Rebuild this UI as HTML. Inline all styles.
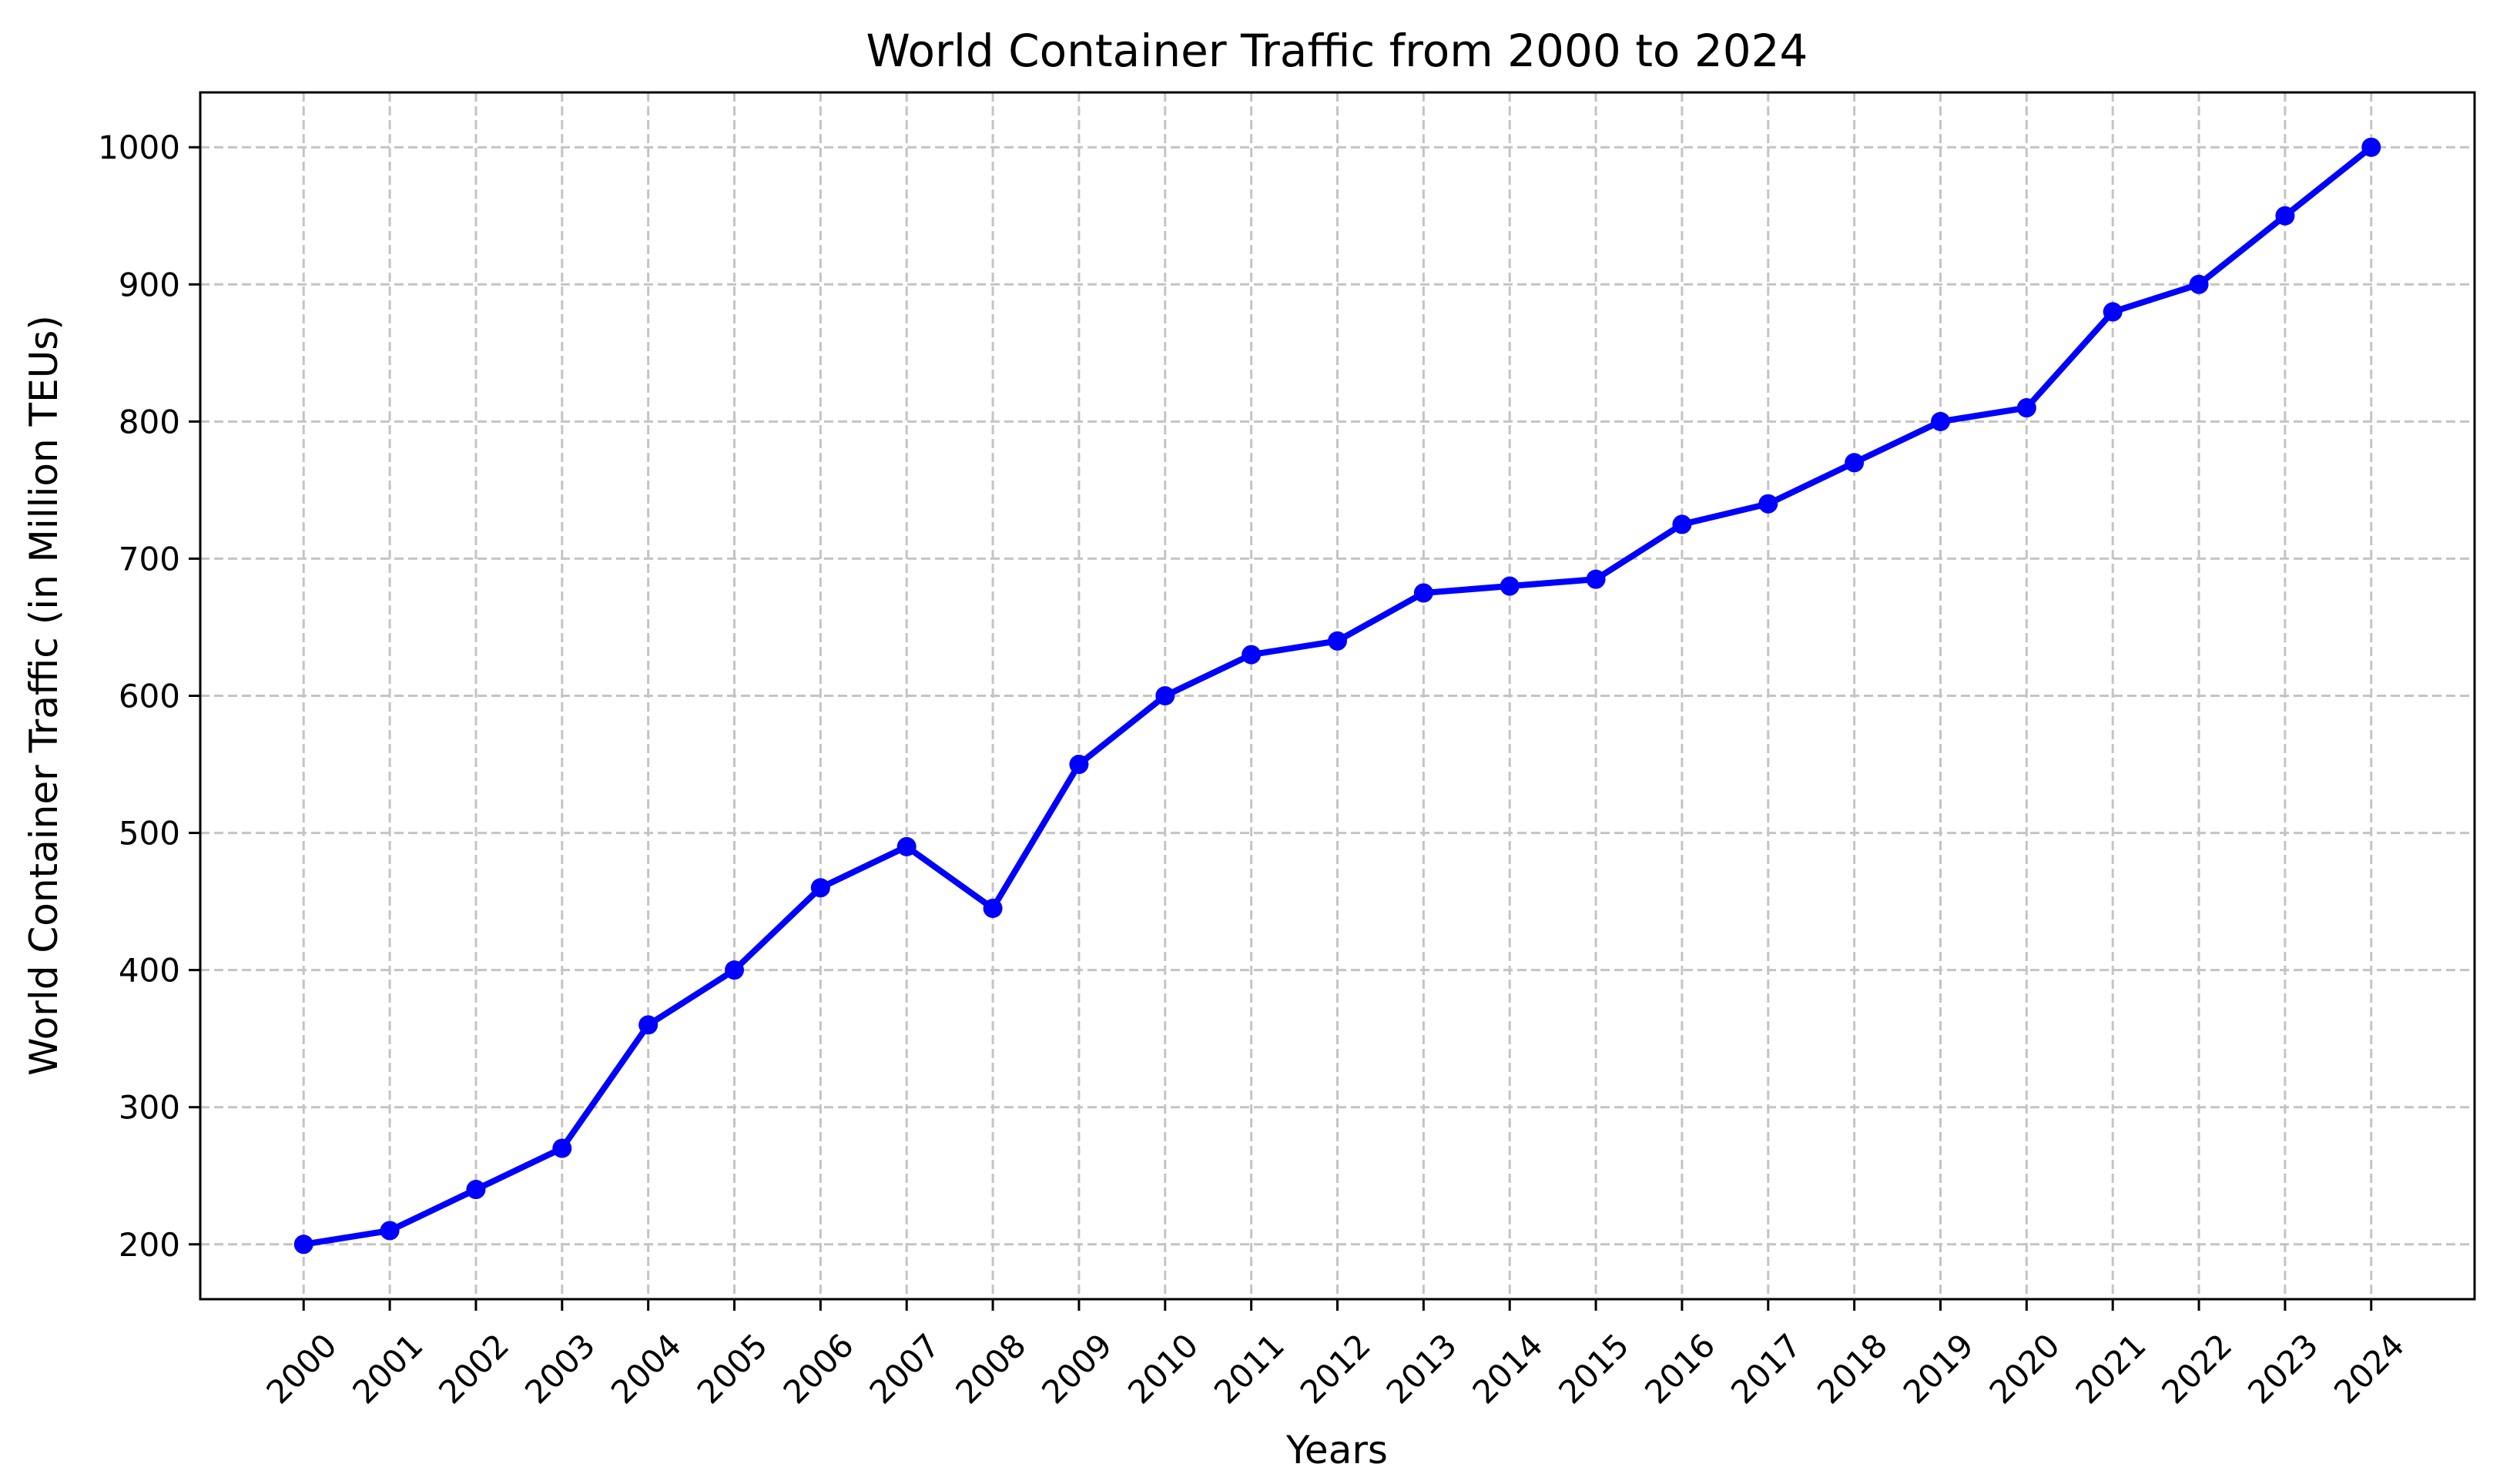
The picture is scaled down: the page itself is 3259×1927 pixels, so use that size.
<!DOCTYPE html>
<html><head><meta charset="utf-8"><style>
body{margin:0;background:#fff}
svg{display:block;font-family:"DejaVu Sans","Liberation Sans",sans-serif}
</style></head><body>
<svg id="chart" width="3259" height="1927" xmlns="http://www.w3.org/2000/svg">
<rect width="3259" height="1927" fill="#fff"/>
<g id="grid"></g>
<g id="series"></g>
<rect x="260" y="120" width="2953" height="1567" fill="none" stroke="#000" stroke-width="3"/>
<g id="ticks"></g>
<text x="1736" y="86" font-size="58" text-anchor="middle">World Container Traffic from 2000 to 2024</text>
<text x="1736" y="1900" font-size="50" text-anchor="middle">Years</text>
<text x="74" y="903" font-size="50" text-anchor="middle" transform="rotate(-90 74 903)">World Container Traffic (in Million TEUs)</text>
</svg>
<script>
const years=[2000,2001,2002,2003,2004,2005,2006,2007,2008,2009,2010,2011,2012,2013,2014,2015,2016,2017,2018,2019,2020,2021,2022,2023,2024];
const traffic=[200,210,240,270,360,400,460,490,445,550,600,630,640,675,680,685,725,740,770,800,810,880,900,950,1000];
const yTicks=[200,300,400,500,600,700,800,900,1000];
const NS='http://www.w3.org/2000/svg';
const L=260,R=3213,T=120,B=1687;
const xMin=-1.2,xMax=25.2,yMin=160,yMax=1040;
const xs=i=>L+(i-xMin)/(xMax-xMin)*(R-L);
const ys=v=>B-(v-yMin)/(yMax-yMin)*(B-T);
function mk(tag,attrs,parent){const e=document.createElementNS(NS,tag);for(const k in attrs)e.setAttribute(k,attrs[k]);parent.appendChild(e);return e;}
const grid=document.getElementById('grid'),ticks=document.getElementById('ticks'),ser=document.getElementById('series');
years.forEach((y,i)=>{
  const x=xs(i);
  const g=mk('line',{x1:x,x2:x,y1:T,y2:B,stroke:'#c4c4c4','stroke-width':3,'stroke-dasharray':'12 6'},grid);
  
  
  const t=mk('line',{x1:x,x2:x,y1:B,y2:B+15,stroke:'#000','stroke-width':3},ticks);
  
  
  const cx=x-3,cy=B+90;
  const lb=mk('text',{x:cx,y:cy+15,'font-size':42,'text-anchor':'middle',transform:`rotate(-45 ${cx} ${cy})`},ticks);
  lb.textContent=y;
  
  
});
yTicks.forEach(v=>{
  const y=ys(v);
  const g=mk('line',{x1:L,x2:R,y1:y,y2:y,stroke:'#c4c4c4','stroke-width':3,'stroke-dasharray':'12 6'},grid);
  
  
  const t=mk('line',{x1:L-15,x2:L,y1:y,y2:y,stroke:'#000','stroke-width':3},ticks);
  
  
  const lb=mk('text',{x:L-26,y:y+15,'font-size':42,'text-anchor':'end'},ticks);
  lb.textContent=v;
  
  
});
const pl=mk('polyline',{points:traffic.map((v,i)=>xs(i)+','+ys(v)).join(' '),fill:'none',stroke:'#0000ff','stroke-width':8,'stroke-linejoin':'round'},ser);


traffic.forEach((v,i)=>{
  const c=mk('circle',{cx:xs(i),cy:ys(v),r:12.5,fill:'#0000ff'},ser);
  
  
});
</script>
</body></html>
